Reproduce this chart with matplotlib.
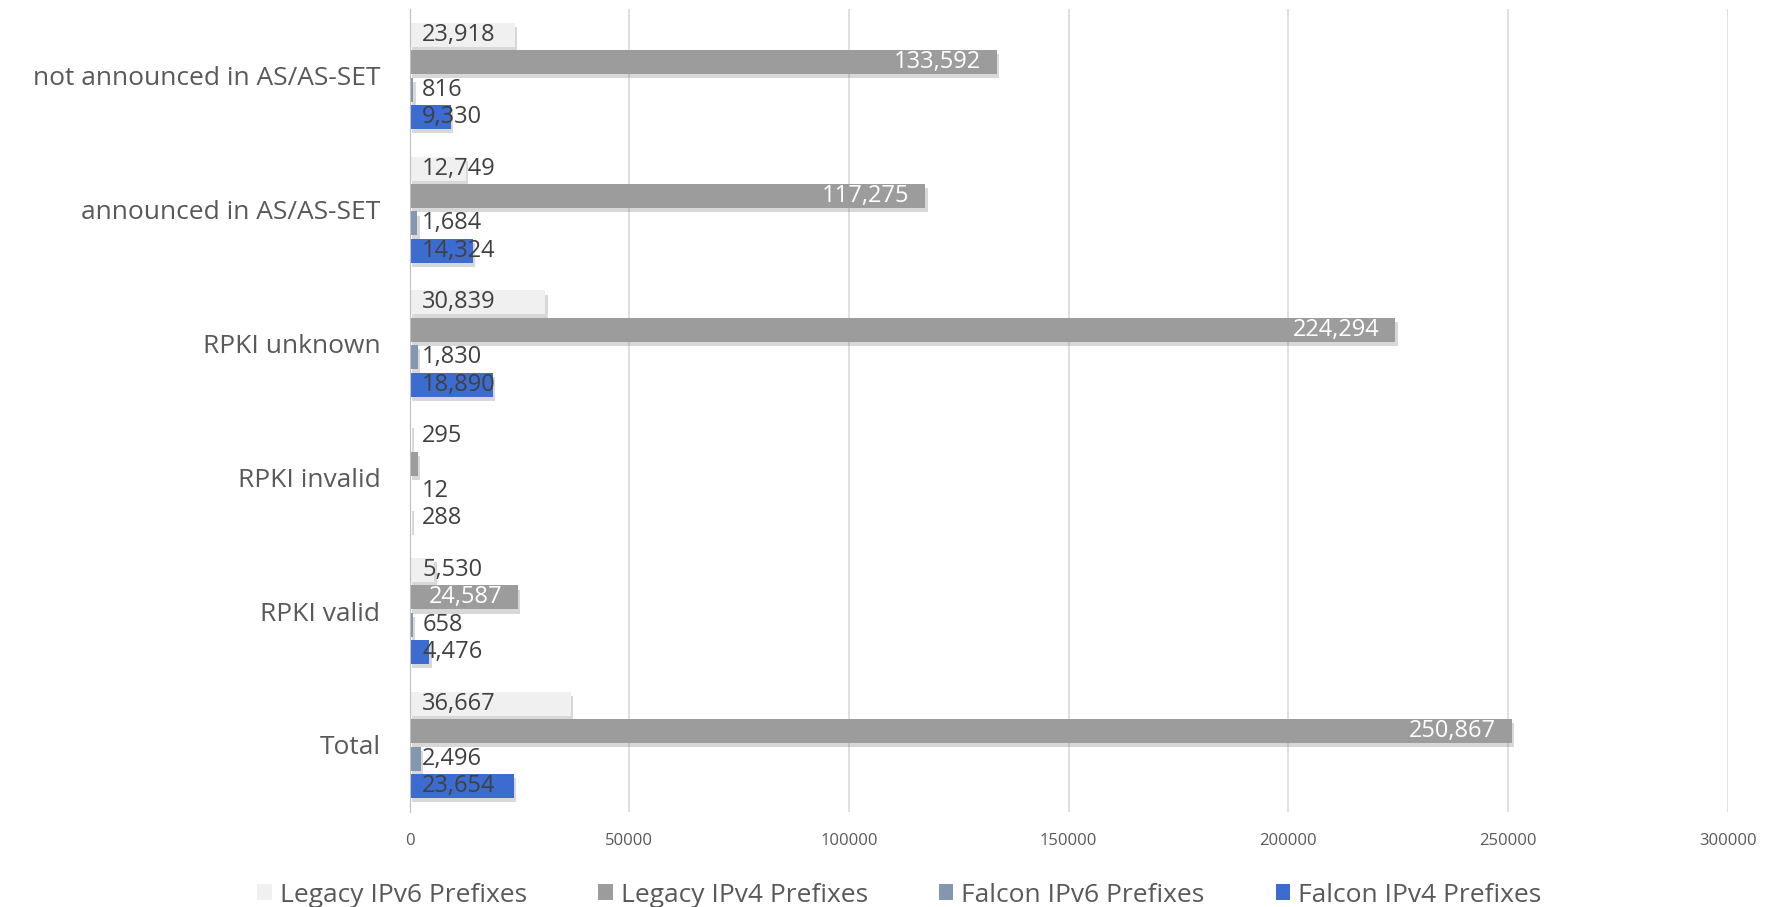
import matplotlib
matplotlib.use('Agg')
import matplotlib.pyplot as plt
import matplotlib.patheffects as pe
from matplotlib.patches import Patch
import numpy as np

plt.rcParams['font.family'] = ['Open Sans', 'DejaVu Sans']

categories = ['Total', 'RPKI valid', 'RPKI invalid', 'RPKI unknown',
              'announced in AS/AS-SET', 'not announced in AS/AS-SET']
legacy_v6 = [36667, 5530, 295, 30839, 12749, 23918]
legacy_v4 = [250867, 24587, 1800, 224294, 117275, 133592]
falcon_v6 = [2496, 658, 12, 1830, 1684, 816]
falcon_v4 = [23654, 4476, 288, 18890, 14324, 9330]

series = [
    ('Legacy IPv6 Prefixes', legacy_v6, '#f0f0f0', 'base'),
    ('Legacy IPv4 Prefixes', legacy_v4, '#9c9c9c', 'end'),
    ('Falcon IPv6 Prefixes', falcon_v6, '#8497b0', 'base'),
    ('Falcon IPv4 Prefixes', falcon_v4, '#3c6cd0', 'base'),
]

fig = plt.figure(figsize=(17.81, 9.07), dpi=100)
ax = fig.add_axes([0.230, 0.105, 0.740, 0.885])

y = np.arange(len(categories))
step = 0.205
height = 0.18
shadow = [pe.SimplePatchShadow(offset=(2, -3), alpha=0.25, shadow_rgbFace='#666666'), pe.Normal()]

for i, (name, vals, color, pos) in enumerate(series):
    off = (1.5 - i) * step
    bars = ax.barh(y + off, vals, height=height, color=color, zorder=3)
    for b in bars:
        b.set_path_effects(shadow)
    for yy, v in zip(y + off, vals):
        txt = f'{v:,}'
        if pos == 'base':
            ax.annotate(txt, (0, yy), xytext=(9, 0), textcoords='offset points',
                        ha='left', va='center', fontsize=17, color='#404040', zorder=5)
        elif v > 10000:
            # white label inside the end of the bar (too short bars hide it anyway)
            ax.annotate(txt, (v, yy), xytext=(-11, 0), textcoords='offset points',
                        ha='right', va='center', fontsize=17, color='white', zorder=5)

ax.set_xlim(0, 300000)
ax.set_ylim(-0.5, len(categories) - 0.5)
ax.set_xticks(np.arange(0, 300001, 50000))
ax.set_xticklabels([str(t) for t in range(0, 300001, 50000)])
ax.set_yticks(y)
ax.set_yticklabels(categories)
ax.tick_params(axis='y', length=0, labelsize=19, labelcolor='#595959', pad=21)
ax.tick_params(axis='x', length=0, labelsize=12, labelcolor='#595959', pad=15)
ax.grid(axis='x', color='#d9d9d9', linewidth=1.2, zorder=0)
for s in ['top', 'right', 'bottom']:
    ax.spines[s].set_visible(False)
ax.spines['left'].set_color('#bfbfbf')
ax.spines['left'].set_zorder(4)

handles = [Patch(facecolor=s[2], edgecolor='none') for s in series]
fig.legend(handles=handles, labels=[s[0] for s in series], loc='lower center',
           bbox_to_anchor=(0.505, -0.027), ncol=4, frameon=False, fontsize=19,
           handlelength=0.55, handleheight=0.55, handletextpad=0.3, columnspacing=2.7,
           labelcolor='#595959')

fig.savefig('out.png', dpi=100)
